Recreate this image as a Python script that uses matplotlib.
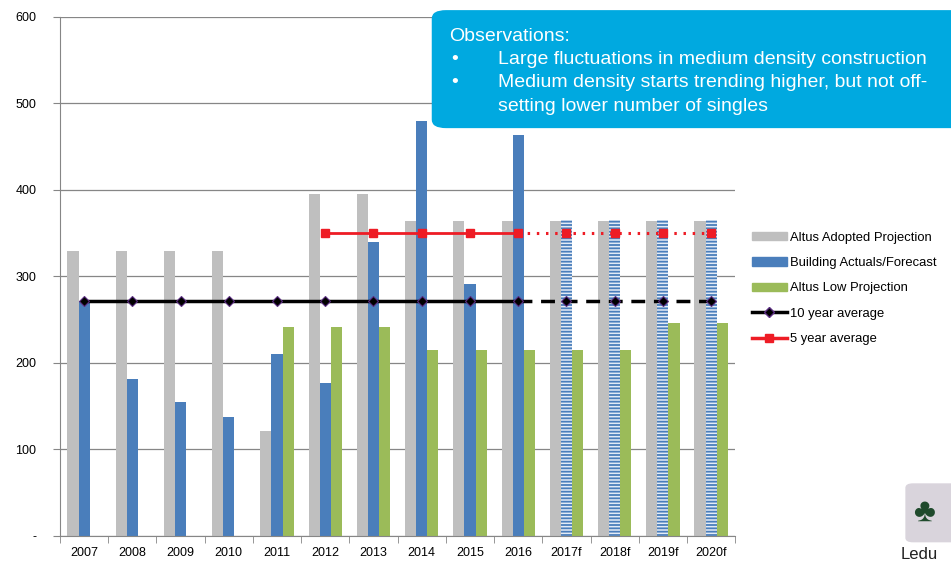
import matplotlib.pyplot as plt
import numpy as np
from matplotlib.patches import FancyBboxPatch
from matplotlib.lines import Line2D
from matplotlib.patches import Patch

plt.rcParams['font.family'] = ['Liberation Sans', 'DejaVu Sans']
plt.rcParams['hatch.linewidth'] = 1.3

years = ['2007', '2008', '2009', '2010', '2011', '2012', '2013', '2014',
         '2015', '2016', '2017f', '2018f', '2019f', '2020f']
adopted = [330, 330, 330, 330, 121, 395, 395, 364, 364, 364, 364, 364, 364, 364]
actuals = [272, 181, 155, 138, 210, 177, 340, 480, 291, 464, 365, 365, 365, 365]
low_proj = [0, 0, 0, 0, 242, 242, 242, 215, 215, 215, 215, 215, 246, 246]
avg10 = [272] * 14
avg5 = [None] * 5 + [350] * 9
n_actual = 10  # 2007-2016 actual, rest forecast

c_gray = '#bfbfbf'
c_blue = '#4a7ebb'
c_green = '#9bbb59'
c_red = '#ee1c25'

fig = plt.figure(figsize=(9.51, 5.62), dpi=100)
ax = fig.add_axes([0.0631, 0.0463, 0.710, 0.9235])

x = np.arange(len(years))
w = 0.23
ax.bar(x - w, adopted, w, color=c_gray, zorder=2)
ax.bar(x[:n_actual], actuals[:n_actual], w, color=c_blue, zorder=2)
ax.bar(x[n_actual:], actuals[n_actual:], w, color='#e3ebf6', edgecolor=c_blue,
       hatch='-----', linewidth=0, zorder=2)
lx = [i for i in x if low_proj[i] > 0]
ax.bar(np.array(lx) + w, [low_proj[i] for i in lx], w, color=c_green, zorder=2)

# 10 year average
ax.plot(x[:n_actual], avg10[:n_actual], color='black', lw=2.5, zorder=3)
ax.plot(x[n_actual - 1:], avg10[n_actual - 1:], color='black', lw=2.5,
        ls=(0, (4, 2.5)), zorder=3)
ax.plot(x, avg10, ls='none', marker='D', ms=5, mfc='black', mec='#5b2d82',
        mew=0.8, zorder=4)

# 5 year average
x5 = [i for i in x if avg5[i] is not None]
ax.plot(x5[:n_actual - 5], [avg5[i] for i in x5[:n_actual - 5]], color=c_red, lw=2, zorder=3)
ax.plot(x5[n_actual - 6:], [avg5[i] for i in x5[n_actual - 6:]], color=c_red, lw=2.2,
        ls=(0, (0.8, 2.2)), zorder=3)
ax.plot(x5, [avg5[i] for i in x5], ls='none', marker='s', ms=6, color=c_red, zorder=4)

ax.set_xlim(-0.5, len(years) - 0.5)
ax.set_ylim(0, 600)
ax.set_yticks([0, 100, 200, 300, 400, 500, 600])
ax.set_yticklabels(['-', '100', '200', '300', '400', '500', '600'], fontsize=9)
ax.set_xticks(x)
ax.set_xticklabels(years, fontsize=9)
ax.set_xticks(np.arange(-0.5, len(years)), minor=True)
ax.tick_params(axis='x', which='major', length=0, pad=8)
ax.tick_params(axis='x', which='minor', length=5, color='#868686')
ax.tick_params(axis='y', length=5, color='#868686', pad=12)
ax.grid(axis='y', color='#868686', lw=0.9, zorder=0)
for s in ['top', 'right']:
    ax.spines[s].set_visible(False)
for s in ['left', 'bottom']:
    ax.spines[s].set_color('#868686')

handles = [Patch(color=c_gray), Patch(color=c_blue), Patch(color=c_green),
           Line2D([], [], color='black', lw=2.5, marker='D', ms=5, mfc='black', mec='#5b2d82'),
           Line2D([], [], color=c_red, lw=2.5, marker='s', ms=6)]
labels = ['Altus Adopted Projection', 'Building Actuals/Forecast', 'Altus Low Projection',
          '10 year average', '5 year average']
fig.legend(handles, labels, loc='upper left', bbox_to_anchor=(0.785, 0.597),
           frameon=False, fontsize=9.4, handlelength=2.7, handleheight=0.6,
           labelspacing=1.02, handletextpad=0.2, borderaxespad=0)

# observations box
box = FancyBboxPatch((0.454, 0.772), 0.6, 0.21, boxstyle='round,pad=0,rounding_size=0.015',
                     transform=fig.transFigure, facecolor='#00a9e0', edgecolor='none',
                     zorder=10)
fig.patches.append(box)
fs = 14
fig.text(0.472, 0.935, 'Observations:', color='white', fontsize=fs, va='center', zorder=11)
fig.text(0.474, 0.894, '\u2022', color='white', fontsize=fs, va='center', zorder=11)
fig.text(0.524, 0.894, 'Large fluctuations in medium density construction', color='white',
         fontsize=fs, va='center', zorder=11)
fig.text(0.474, 0.853, '\u2022', color='white', fontsize=fs, va='center', zorder=11)
fig.text(0.524, 0.853, 'Medium density starts trending higher, but not off-', color='white',
         fontsize=fs, va='center', zorder=11)
fig.text(0.524, 0.811, 'setting lower number of singles', color='white',
         fontsize=fs, va='center', zorder=11)

# logo corner
logo = FancyBboxPatch((0.952, 0.035), 0.06, 0.105, boxstyle='round,pad=0,rounding_size=0.008',
                      transform=fig.transFigure, facecolor='#d9d4dc', edgecolor='none')
fig.patches.append(logo)
fig.text(0.960, 0.088, '\u2663', color='#1f4a2c', fontsize=24, va='center', ha='left')
fig.text(0.947, 0.0, 'Ledu', color='#222222', fontsize=12, va='bottom')

fig.savefig('out.png', dpi=100)
